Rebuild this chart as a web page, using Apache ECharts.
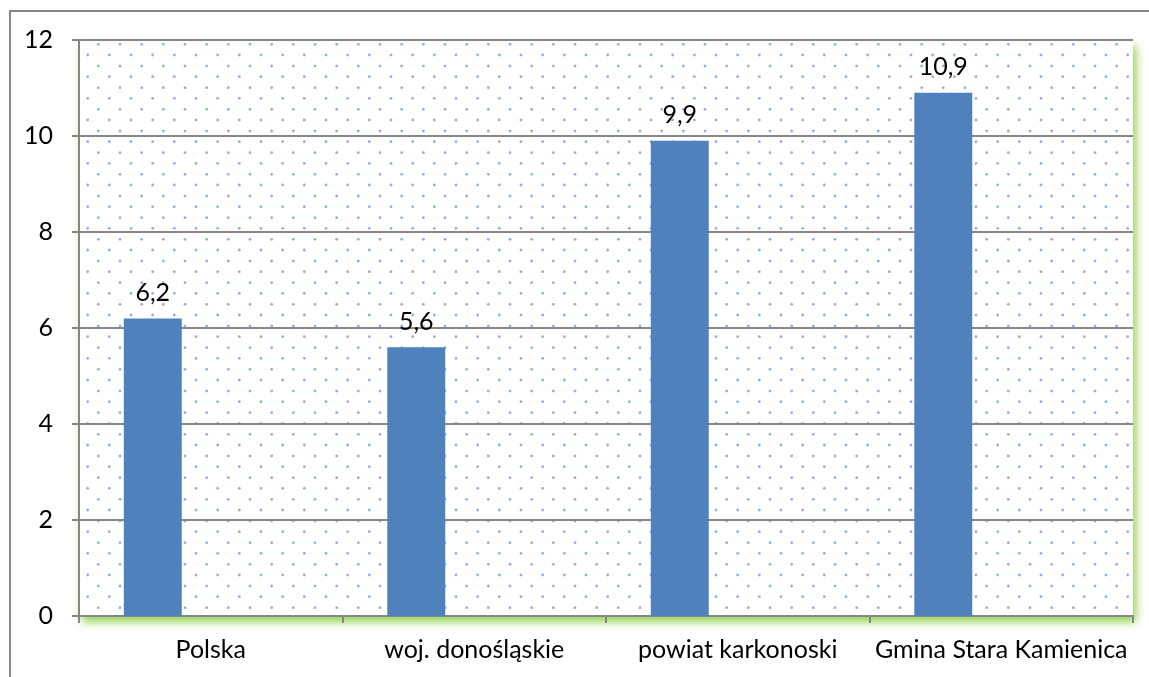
<!DOCTYPE html>
<html>
<head>
<meta charset="utf-8">
<script src="https://cdn.jsdelivr.net/npm/echarts@6/dist/echarts.min.js"></script>
<style>
  html, body { margin: 0; padding: 0; background: #fff; }
  #chart { width: 1149px; height: 677px; }
</style>
</head>
<body>
<div id="chart"></div>
<script>
// dane wykresu
const categories = ['Polska', 'woj. donośląskie', 'powiat karkonoski', 'Gmina Stara Kamienica'];
const values = [6.2, 5.6, 9.9, 10.9];
// puste serie (w oryginale zajmują miejsce obok słupka)
const emptyA = [null, null, null, null];
const emptyB = [null, null, null, null];
const yMin = 0;
const yMax = 12;
const yStep = 2;

const FONT = 'Lato';
const GRAY = '#868686';

// tło z kropkami
function makeDots() {
  const size = 65;
  const step = size / 3;
  const c = document.createElement('canvas');
  c.width = size;
  c.height = size;
  const ctx = c.getContext('2d');
  ctx.fillStyle = '#ffffff';
  ctx.fillRect(0, 0, size, size);
  ctx.fillStyle = '#8db3e2';
  for (let i = -1; i <= 3; i++) {
    for (let j = -1; j <= 3; j++) {
      const pts = [[11.67 + i * step, 1 + j * step], [1 + i * step, 11.67 + j * step]];
      pts.forEach(([x, y]) => {
        ctx.beginPath();
        ctx.arc(x, y, 1.4, 0, Math.PI * 2);
        ctx.fill();
      });
    }
  }
  return c;
}

const chart = echarts.init(document.getElementById('chart'));

const option = {
  animation: false,
  grid: {
    left: 79,
    top: 40,
    right: 16,
    bottom: 61,
    show: true,
    borderWidth: 0,
    backgroundColor: { image: makeDots(), repeat: 'repeat' },
    shadowColor: 'rgba(146, 208, 80, 1)',
    shadowBlur: 10,
    shadowOffsetX: 3,
    shadowOffsetY: 6
  },
  graphic: [
    {
      type: 'rect',
      silent: true,
      shape: { x: 10, y: 11, width: 1200, height: 700 },
      style: { fill: 'none', stroke: GRAY, lineWidth: 2 }
    }
  ],
  xAxis: {
    type: 'category',
    data: categories,
    axisLine: { lineStyle: { color: GRAY, width: 2 } },
    axisTick: { show: true, interval: 0, length: 7, lineStyle: { color: GRAY, width: 2 } },
    axisLabel: {
      interval: 0,
      color: '#000',
      fontFamily: FONT,
      fontSize: 25,
      margin: 21
    }
  },
  yAxis: {
    type: 'value',
    min: yMin,
    max: yMax,
    interval: yStep,
    axisLine: { show: true, lineStyle: { color: GRAY, width: 2 } },
    axisTick: { show: true, length: 7, lineStyle: { color: GRAY, width: 2 } },
    axisLabel: {
      color: '#000',
      fontFamily: FONT,
      fontSize: 25,
      margin: 26
    },
    splitLine: { lineStyle: { color: GRAY, width: 2 } }
  },
  series: [
    {
      type: 'bar',
      data: values,
      barGap: '0%',
      barCategoryGap: '34%',
      itemStyle: { color: '#4f81bd' },
      label: {
        show: true,
        position: 'top',
        distance: 13,
        color: '#000',
        fontFamily: FONT,
        fontSize: 25,
        formatter: (p) => String(p.value).replace('.', ',')
      }
    },
    { type: 'bar', data: emptyA, barGap: '0%', barCategoryGap: '34%' },
    { type: 'bar', data: emptyB, barGap: '0%', barCategoryGap: '34%' }
  ]
};

chart.setOption(option);
window.addEventListener('resize', () => chart.resize());
</script>
</body>
</html>
